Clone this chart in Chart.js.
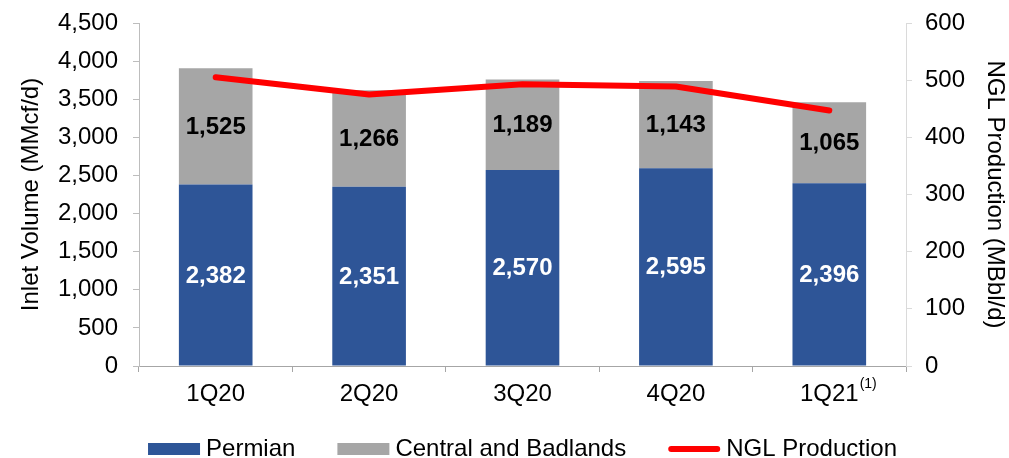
<!DOCTYPE html>
<html>
<head>
<meta charset="utf-8">
<script src="https://cdn.jsdelivr.net/npm/chart.js@4"></script>
<style>
  html, body { margin: 0; padding: 0; background: #fff; }
  #wrap { width: 1009px; height: 458px; }
</style>
</head>
<body>
<div id="wrap"><canvas id="volumeChart"></canvas></div>
<script>
const QUARTERS = ["1Q20", "2Q20", "3Q20", "4Q20", "1Q21"];
const PERMIAN = [2382, 2351, 2570, 2595, 2396];
const CENTRAL_BADLANDS = [1525, 1266, 1189, 1143, 1065];
const NGL_PRODUCTION = [505, 475, 493, 489, 447];
const FOOTNOTES = ["", "", "", "", "(1)"];

const BLUE = "#2E5597";
const GRAY = "#A6A6A6";
const RED = "#FF0000";
const FONT = "'Liberation Sans', Arial, sans-serif";
const FONT_SIZE = 24;

const ctx = document.getElementById("volumeChart").getContext("2d");

// value labels inside the stacked bars
const barLabels = {
  id: "barLabels",
  afterDatasetsDraw(chart) {
    const c = chart.ctx;
    c.save();
    c.font = "bold " + FONT_SIZE + "px " + FONT;
    c.textAlign = "center";
    c.textBaseline = "middle";
    [0, 1].forEach(di => {
      const meta = chart.getDatasetMeta(di);
      const ds = chart.data.datasets[di];
      c.fillStyle = di === 0 ? "#FFFFFF" : "#000000";
      meta.data.forEach((bar, i) => {
        const mid = (bar.y + bar.base) / 2;
        c.fillText(ds.data[i].toLocaleString("en-US"), bar.x, mid + 1);
      });
    });
    c.restore();
  }
};

// superscript footnote markers after the category labels
const footnotes = {
  id: "footnotes",
  afterDraw(chart) {
    const x = chart.scales.x;
    const c = chart.ctx;
    c.save();
    FOOTNOTES.forEach((note, i) => {
      if (!note) return;
      c.font = FONT_SIZE + "px " + FONT;
      const w = c.measureText(QUARTERS[i]).width;
      const px = x.getPixelForValue(i) + w / 2 + 1;
      c.font = "14px " + FONT;
      c.fillStyle = "#000";
      c.textAlign = "left";
      c.textBaseline = "middle";
      c.fillText(note, px, x.top + 18);
    });
    c.restore();
  }
};

// legend row under the x axis, centred on the plot area
const bottomLegend = {
  id: "bottomLegend",
  afterDraw(chart) {
    const c = chart.ctx;
    const area = chart.chartArea;
    const boxW = 52, boxH = 12, textGap = 6, itemGap = 42;
    const y = 449;
    c.save();
    c.font = FONT_SIZE + "px " + FONT;
    const items = chart.data.datasets.map(ds => ({
      ds,
      w: boxW + textGap + c.measureText(ds.label).width
    }));
    const total = items.reduce((s, it) => s + it.w, 0) + itemGap * (items.length - 1);
    let x = (area.left + area.right) / 2 - total / 2;
    items.forEach(({ ds, w }) => {
      if (ds.type === "line") {
        c.strokeStyle = ds.borderColor;
        c.lineWidth = 6;
        c.lineCap = "round";
        c.beginPath();
        c.moveTo(x + 3, y);
        c.lineTo(x + boxW - 3, y);
        c.stroke();
      } else {
        c.fillStyle = ds.backgroundColor;
        c.fillRect(x, y - boxH / 2, boxW, boxH);
      }
      c.fillStyle = "#000";
      c.textAlign = "left";
      c.textBaseline = "middle";
      c.fillText(ds.label, x + boxW + textGap, y);
      x += w + itemGap;
    });
    c.restore();
  }
};

// fixed axis widths, without the extra room chart.js reserves for end labels
function fixWidth(width) {
  return scale => {
    scale.width = width;
    scale.paddingTop = 0;
    scale.paddingBottom = 0;
  };
}

const myChart = new Chart(ctx, {
  data: {
    labels: QUARTERS,
    datasets: [
      {
        type: "bar",
        label: "Permian",
        data: PERMIAN,
        backgroundColor: BLUE,
        stack: "inlet",
        yAxisID: "y",
        barPercentage: 0.96,
        categoryPercentage: 0.5,
        order: 2
      },
      {
        type: "bar",
        label: "Central and Badlands",
        data: CENTRAL_BADLANDS,
        backgroundColor: GRAY,
        stack: "inlet",
        yAxisID: "y",
        barPercentage: 0.96,
        categoryPercentage: 0.5,
        order: 2
      },
      {
        type: "line",
        label: "NGL Production",
        data: NGL_PRODUCTION,
        borderColor: RED,
        backgroundColor: RED,
        borderWidth: 6,
        borderCapStyle: "round",
        borderJoinStyle: "round",
        pointRadius: 0,
        tension: 0,
        yAxisID: "y1",
        order: 1
      }
    ]
  },
  options: {
    responsive: true,
    maintainAspectRatio: false,
    animation: false,
    layout: { padding: { top: 23, left: 0, right: 0, bottom: 50 } },
    plugins: {
      tooltip: { enabled: false },
      legend: { display: false }
    },
    scales: {
      x: {
        stacked: true,
        afterFit: scale => { scale.height = 42; },
        grid: {
          drawOnChartArea: false,
          drawTicks: true,
          tickLength: 6,
          color: "#A6A6A6"
        },
        border: { color: "#A6A6A6", width: 1 },
        ticks: {
          font: { family: FONT, size: FONT_SIZE },
          color: "#000",
          padding: 8
        }
      },
      y: {
        stacked: true,
        min: 0,
        max: 4500,
        position: "left",
        afterFit: fixWidth(139),
        grid: {
          drawOnChartArea: false,
          drawTicks: true,
          tickLength: 6,
          color: "#BDBDBD"
        },
        border: { color: "#BDBDBD", width: 1 },
        ticks: {
          stepSize: 500,
          font: { family: FONT, size: FONT_SIZE },
          color: "#000",
          padding: 15,
          callback: v => v.toLocaleString("en-US")
        },
        title: {
          display: true,
          text: "Inlet Volume (MMcf/d)",
          font: { family: FONT, size: FONT_SIZE },
          color: "#000",
          padding: { top: 17, bottom: 0 }
        }
      },
      y1: {
        min: 0,
        max: 600,
        position: "right",
        afterFit: fixWidth(103),
        grid: {
          drawOnChartArea: false,
          drawTicks: true,
          tickLength: 6,
          color: "#DADADA"
        },
        border: { color: "#DADADA", width: 1 },
        ticks: {
          stepSize: 100,
          font: { family: FONT, size: FONT_SIZE },
          color: "#000",
          padding: 13
        },
        title: {
          display: true,
          text: "NGL Production (MBbl/d)",
          font: { family: FONT, size: FONT_SIZE },
          color: "#000",
          padding: { top: 0, bottom: 0 }
        }
      }
    }
  },
  plugins: [barLabels, footnotes, bottomLegend]
});
</script>
</body>
</html>
